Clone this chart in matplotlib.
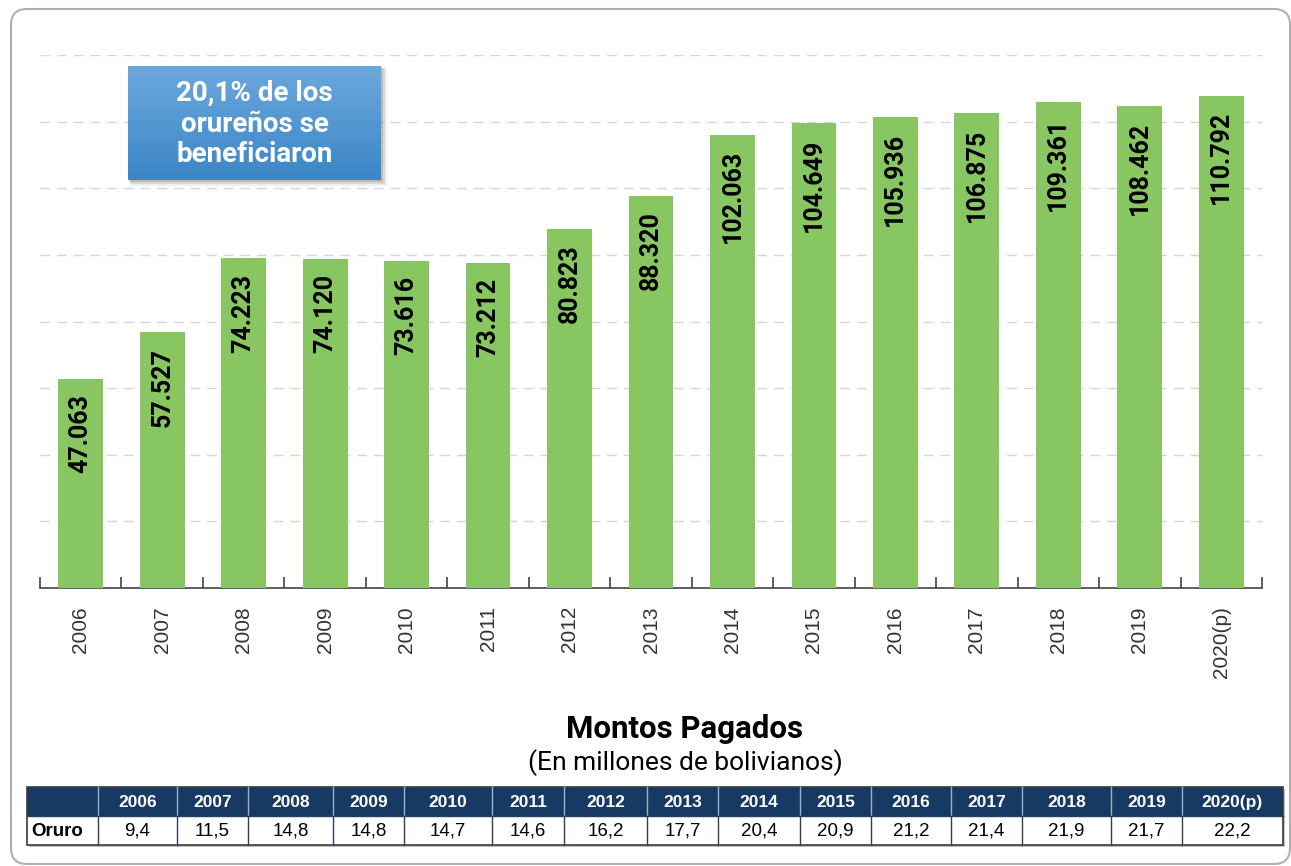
import numpy as np
import matplotlib
matplotlib.use('Agg')
import matplotlib.pyplot as plt
from matplotlib.patches import Rectangle, FancyBboxPatch
from matplotlib.colors import LinearSegmentedColormap

# datos
years = ['2006','2007','2008','2009','2010','2011','2012','2013','2014',
         '2015','2016','2017','2018','2019','2020(p)']
beneficiarios = [47063,57527,74223,74120,73616,73212,80823,88320,102063,
                 104649,105936,106875,109361,108462,110792]
montos = ['9,4','11,5','14,8','14,8','14,7','14,6','16,2','17,7','20,4',
          '20,9','21,2','21,4','21,9','21,7','22,2']
region = 'Oruro'
nota = '20,1% de los\norureños se\nbeneficiaron'

W, H = 1291, 866
fig = plt.figure(figsize=(W/100, H/100), dpi=100)
fig.patch.set_facecolor('white')

# grafico de barras
ax = fig.add_axes([40/W, 1-588/H, 1222/W, (588-55)/H])
x = np.arange(len(years))
vals = np.array(beneficiarios)/1000.
ax.bar(x, vals, width=0.55, color='#87C661', zorder=3)
for xi, v in zip(x, vals):
    ax.annotate('{:.3f}'.format(v), (xi, v), xytext=(0, -11), textcoords='offset points',
                rotation=90, ha='center', va='top', fontsize=18, fontweight='bold',
                family='Roboto', color='black', zorder=4)
ax.set_xlim(-0.5, len(years)-0.5)
ax.set_ylim(0, 120)
ax.set_yticks(np.arange(0, 121, 15))
ax.yaxis.grid(True, color='#d6d6d6', linestyle=(0, (7, 5)), linewidth=1, zorder=0)
ax.tick_params(axis='y', length=0, labelleft=False)
ax.set_xticks(x)
ax.set_xticklabels(years, rotation=90, fontsize=15, family='Liberation Sans', color='#333333')
ax.set_xticks(np.arange(-0.5, len(years), 1), minor=True)
ax.tick_params(axis='x', which='major', length=0, pad=13)
ax.tick_params(axis='x', which='minor', direction='in', length=8, width=1.2, color='#444444')
for s in ['top', 'right', 'left']:
    ax.spines[s].set_visible(False)
ax.spines['bottom'].set_color('#444444')
ax.spines['bottom'].set_linewidth(1.2)
ax.set_facecolor('none')

# capa superior en pixeles
ov = fig.add_axes([0, 0, 1, 1], zorder=5)
ov.set_xlim(0, W)
ov.set_ylim(H, 0)
ov.axis('off')
ov.patch.set_visible(False)

# marco
ov.add_patch(FancyBboxPatch((11, 9), 1279, 855, boxstyle='round,pad=0,rounding_size=16',
                            facecolor='none', edgecolor='#b0b0b0', linewidth=1.5))

# recuadro azul con sombra
bx0, by0, bx1, by1 = 128, 66, 381, 180
for k, a in zip([6, 4, 2], [0.08, 0.12, 0.18]):
    ov.add_patch(Rectangle((bx0+k/2, by0+k/2), bx1-bx0+k/2, by1-by0+k/2,
                           facecolor='#333333', edgecolor='none', alpha=a))
grad = np.linspace(0, 1, 100).reshape(-1, 1)
cm_box = LinearSegmentedColormap.from_list('box', ['#6ba8dd', '#3c86c7'])
ov.imshow(grad, cmap=cm_box, extent=(bx0, bx1, by1, by0), aspect='auto', zorder=2)
ov.set_xlim(0, W)
ov.set_ylim(H, 0)
ov.text((bx0+bx1)/2, (by0+by1)/2+1, nota, ha='center', va='center', fontsize=20,
        fontweight='bold', family='Roboto', color='white', linespacing=1.18, zorder=3)

# titulos
ov.text(685, 729, 'Montos Pagados', ha='center', va='center', fontsize=22.5,
        fontweight='bold', family='Roboto', color='black')
ov.text(685, 763, '(En millones de bolivianos)', ha='center', va='center', fontsize=19,
        family='Roboto', color='black')

# tabla
cols = [27, 98, 177, 248, 333, 404, 492, 564, 647, 718, 800, 871, 951, 1022, 1111, 1182, 1283]
ty0, ty1, ty2 = 787, 816, 845
ov.add_patch(Rectangle((cols[0]+2, ty0+2), cols[-1]-cols[0], ty2-ty0,
                       facecolor='#888888', edgecolor='none', alpha=0.5))
ov.add_patch(Rectangle((cols[0], ty0), cols[-1]-cols[0], ty1-ty0,
                       facecolor='#173a64', edgecolor='none'))
ov.add_patch(Rectangle((cols[0], ty1), cols[-1]-cols[0], ty2-ty1,
                       facecolor='white', edgecolor='none'))
for c in cols[1:-1]:
    ov.plot([c, c], [ty0, ty1], color='#9fb0c6', lw=1)
    ov.plot([c, c], [ty1, ty2], color='#2b3f5e', lw=1)
ov.add_patch(Rectangle((cols[0], ty0), cols[-1]-cols[0], ty2-ty0,
                       facecolor='none', edgecolor='#3a3a3a', linewidth=1.2))
ov.plot([cols[0], cols[-1]], [ty1, ty1], color='#2b3f5e', lw=1)
for i, (yr, m) in enumerate(zip(years, montos)):
    cx = (cols[i+1]+cols[i+2])/2
    ov.text(cx, (ty0+ty1)/2+1, yr, ha='center', va='center', fontsize=12.5,
            fontweight='bold', family='Liberation Sans', color='white')
    ov.text(cx, (ty1+ty2)/2+1, m, ha='center', va='center', fontsize=13.5,
            family='Liberation Sans', color='black')
ov.text(cols[0]+4, (ty1+ty2)/2+1, region, ha='left', va='center', fontsize=13.5,
        fontweight='bold', family='Liberation Sans', color='black')

fig.savefig('out.png', dpi=100)
